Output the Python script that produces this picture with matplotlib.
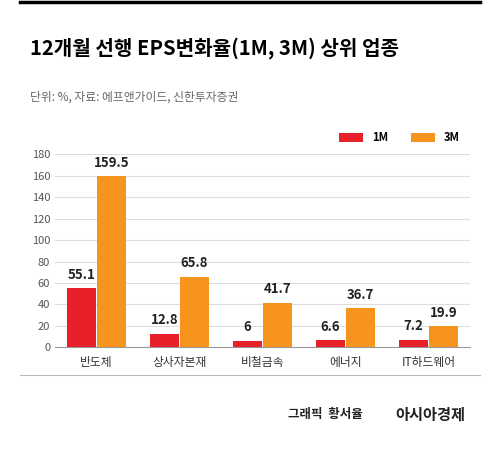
import matplotlib.pyplot as plt
import numpy as np

plt.rcParams['font.family'] = ['Noto Sans CJK KR', 'DejaVu Sans']

categories = ['반도체', '상사자본재', '비철금속', '에너지', 'IT하드웨어']
eps_1m = [55.1, 12.8, 6, 6.6, 7.2]
eps_3m = [159.5, 65.8, 41.7, 36.7, 19.9]
labels_1m = ['55.1', '12.8', '6', '6.6', '7.2']
labels_3m = ['159.5', '65.8', '41.7', '36.7', '19.9']

red = '#E8202A'
orange = '#F7941D'

fig = plt.figure(figsize=(5, 4.54), dpi=100)
ax = fig.add_axes([0.11, 0.235, 0.83, 0.425])

x = np.arange(len(categories))
w = 0.34
ax.bar(x - w / 2 - 0.01, eps_1m, w, color=red, label='1M', zorder=3)
ax.bar(x + w / 2 + 0.01, eps_3m, w, color=orange, label='3M', zorder=3)
for xi, v, s in zip(x, eps_1m, labels_1m):
    ax.text(xi - w / 2 - 0.01, v + 6, s, ha='center', va='bottom', fontsize=9.5, fontweight='bold', color='#222222')
for xi, v, s in zip(x, eps_3m, labels_3m):
    ax.text(xi + w / 2 + 0.01, v + 6, s, ha='center', va='bottom', fontsize=9.5, fontweight='bold', color='#222222')

ax.set_ylim(0, 180)
ax.set_yticks(range(0, 181, 20))
ax.set_xlim(-0.5, len(categories) - 0.5)
ax.set_xticks(x)
ax.set_xticklabels(categories, fontsize=8.5, color='#333333')
ax.tick_params(axis='y', labelsize=8, colors='#555555', length=0)
ax.tick_params(axis='x', length=0, pad=6)
ax.grid(axis='y', color='#dddddd', linewidth=0.8, zorder=0)
for s in ['top', 'right', 'left']:
    ax.spines[s].set_visible(False)
ax.spines['bottom'].set_color('#999999')

ax.legend(loc='lower right', bbox_to_anchor=(1.0, 1.0), ncol=2, frameon=False,
          fontsize=8, handlelength=2.2, handleheight=0.9, prop={'weight': 'bold', 'size': 8})

fig.add_artist(plt.Line2D([0.04, 0.96], [0.995, 0.995], color='black', linewidth=2.5))
fig.text(0.06, 0.895, '12개월 선행 EPS변화율(1M, 3M) 상위 업종', fontsize=14.5, fontweight='bold', va='center')
fig.text(0.06, 0.787, '단위: %, 자료: 에프앤가이드, 신한투자증권', fontsize=8.5, color='#666666', va='center')
fig.add_artist(plt.Line2D([0.04, 0.96], [0.175, 0.175], color='#bbbbbb', linewidth=0.8))
fig.text(0.725, 0.087, '그래픽  황서율', fontsize=9, fontweight='bold', ha='right', va='center', color='#222222')
fig.text(0.93, 0.087, '아시아경제', fontsize=11, fontweight='bold', ha='right', va='center', color='#222222')

fig.savefig('out.png', dpi=100)
